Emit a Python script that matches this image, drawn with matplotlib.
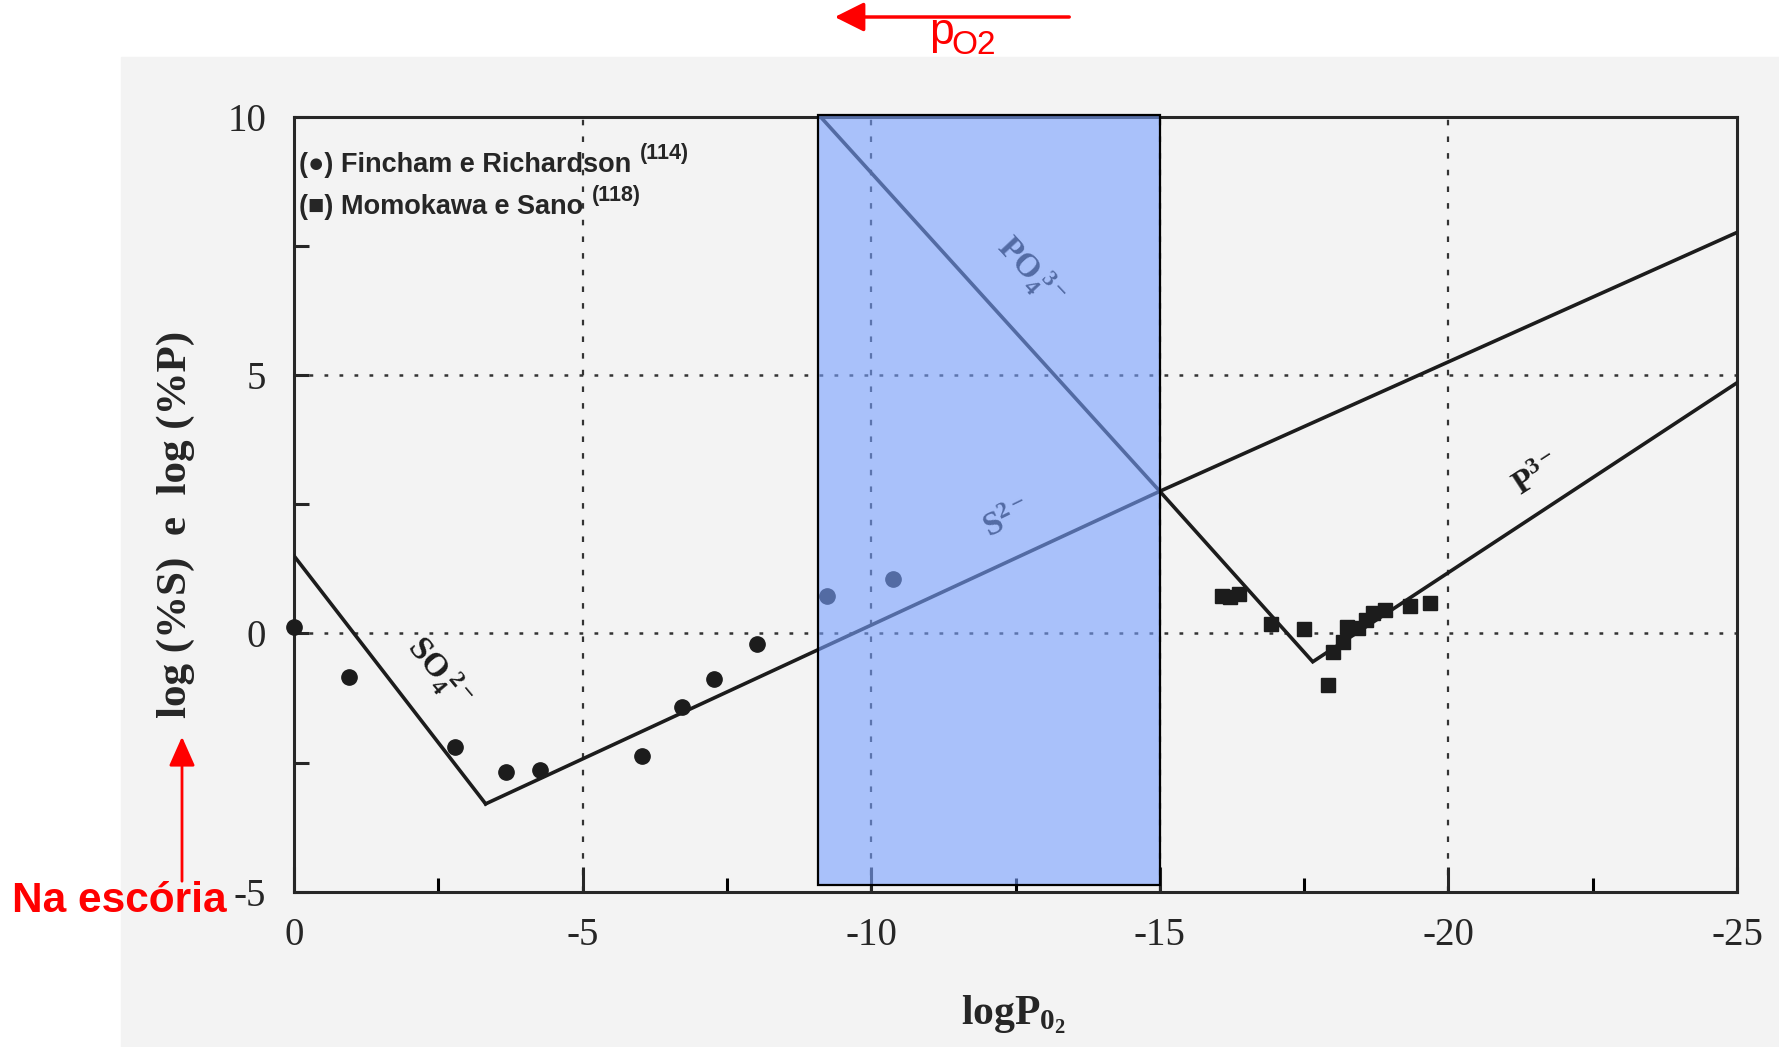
"""Stability diagram of S and P species in slag versus oxygen partial pressure."""

import matplotlib

matplotlib.use("Agg")
import matplotlib.pyplot as plt
from matplotlib.patches import Rectangle, FancyArrowPatch

plt.rcParams["font.family"] = ["Liberation Serif", "DejaVu Sans"]
plt.rcParams["axes.unicode_minus"] = False
plt.rcParams["mathtext.fontset"] = "custom"
plt.rcParams["mathtext.rm"] = "Liberation Serif:bold"
plt.rcParams["mathtext.bf"] = "Liberation Serif:bold"
plt.rcParams["mathtext.it"] = "Liberation Serif:bold:italic"

W, H = 1779, 1047

# model lines (x = log pO2, y = log %S or log %P)
so4_x = [0.0, -3.32]
so4_y = [1.5, -3.3]
s2_x = [-3.32, -15.0, -25.0]
s2_y = [-3.3, 2.75, 7.76]
po4_x = [-9.12, -15.0]
po4_y = [10.0, 2.75]
p3_x = [-15.0, -17.65, -25.0]
p3_y = [2.75, -0.55, 4.85]

# Fincham e Richardson (circles)
fr_x = [0.0, -0.96, -2.79, -3.67, -4.27, -6.03, -6.72, -7.28, -8.03, -9.23, -10.38]
fr_y = [0.12, -0.85, -2.19, -2.69, -2.65, -2.37, -1.43, -0.89, -0.21, 0.73, 1.06]

# Momokawa e Sano (squares)
ms_x = [-16.08, -16.21, -16.38, -16.93, -17.50, -17.92, -18.00, -18.18, -18.24,
        -18.44, -18.58, -18.70, -18.90, -19.33, -19.68]
ms_y = [0.72, 0.71, 0.77, 0.19, 0.08, -1.0, -0.36, -0.16, 0.13,
        0.10, 0.26, 0.39, 0.45, 0.53, 0.59]

# highlighted window of log pO2
band_x = (-9.07, -15.0)
band_y = (-4.87, 10.03)

x_ticks = [0, -5, -10, -15, -20, -25]
x_minor = [-2.5, -7.5, -12.5, -17.5, -22.5]
y_ticks = [-5, 0, 5, 10]
y_minor = [-2.5, 2.5, 7.5]
x_grid = [-5, -10, -15, -20]
y_grid = [0, 5]


def px(x, y):
    return x / W, 1 - y / H


fig = plt.figure(figsize=(W / 100, H / 100), dpi=100)
fig.patch.set_facecolor("white")
# scanned page backdrop
fig.patches.append(Rectangle(px(121, H), (W - 121) / W, (H - 57) / H,
                             transform=fig.transFigure, color="#f3f3f3", zorder=-5))

ax = fig.add_axes([294 / W, 155.3 / H, 1443 / W, 775.0 / H])
ax.set_facecolor("none")
ax.set_xlim(0, -25)
ax.set_ylim(-5, 10)

ink = "#1c1c1c"
for v in x_grid:
    ax.axvline(v, color="#333333", lw=1.6, ls=(0, (2.5, 5)), zorder=1)
for v in y_grid:
    ax.axhline(v, color="#333333", lw=1.8, ls=(0, (1.5, 4.5)), zorder=1)

for xs, ys in [(so4_x, so4_y), (s2_x, s2_y), (po4_x, po4_y), (p3_x, p3_y)]:
    ax.plot(xs, ys, color=ink, lw=2.6, zorder=3, solid_joinstyle="miter")

ax.plot(fr_x, fr_y, "o", color=ink, ms=11, zorder=4, clip_on=False)
ax.plot(ms_x, ms_y, "s", color=ink, ms=10, zorder=4, clip_on=False)

label_kw = dict(ha="center", va="center", fontsize=24, color=ink, zorder=3)
ax.text(-2.5, -0.75, r"$\mathbf{SO_4^{\ 2-}}$", rotation=-50, **label_kw)
ax.text(-12.75, 7.0, r"$\mathbf{PO_4^{\ 3-}}$", rotation=-47, **label_kw)
ax.text(-12.35, 2.2, r"$\mathbf{S^{2-}}$", rotation=26, **label_kw)
ax.text(-21.55, 3.05, r"$\mathbf{P^{3-}}$", rotation=33, **label_kw)

# translucent band over the plot, black outline on top
ax.add_patch(Rectangle((band_x[0], band_y[0]), band_x[1] - band_x[0], band_y[1] - band_y[0],
                       facecolor="#78a0ff", alpha=0.6, edgecolor="none", zorder=5, clip_on=False))
ax.add_patch(Rectangle((band_x[0], band_y[0]), band_x[1] - band_x[0], band_y[1] - band_y[0],
                       facecolor="none", edgecolor="black", lw=1.6, zorder=6, clip_on=False))

for side in ["left", "right", "top", "bottom"]:
    ax.spines[side].set_color("#262626")
    ax.spines[side].set_linewidth(2.2)

ax.set_xticks(x_ticks)
ax.set_xticklabels([str(v) for v in x_ticks])
ax.set_xticks(x_minor, minor=True)
ax.set_yticks(y_ticks)
ax.set_yticklabels([str(v) for v in y_ticks])
ax.set_yticks(y_minor, minor=True)
ax.tick_params(axis="x", which="major", direction="in", length=18, width=2.2,
               pad=18, labelsize=28, colors="#262626", top=False)
ax.tick_params(axis="x", which="minor", direction="in", length=10, width=2.2, top=False)
ax.tick_params(axis="y", which="both", direction="in", length=11, width=2.2,
               pad=20, labelsize=28, colors="#262626", right=False)

fig.text(*px(176, 524), "log (%S)  e  log (%P)", rotation=90, ha="center", va="center",
         fontsize=31, fontweight="bold", color="#262626")
fig.text(*px(961, 1024), r"$\mathbf{logP_{0_2}}$", ha="left", va="baseline",
         fontsize=30, color="#262626")

# legend
sans = ["Liberation Sans", "DejaVu Sans"]
renderer = fig.canvas.get_renderer()
for text, ref, ytop in [("(\u25cf) Fincham e Richardson", "(114)", 172),
                         ("(\u25a0) Momokawa e Sano", "(118)", 214)]:
    t = fig.text(*px(299, ytop), text, ha="left", va="baseline", fontsize=19.5,
                 fontweight="bold", family=sans, color="#262626")
    bb = t.get_window_extent(renderer=renderer)
    fig.text(bb.x1 / W + 9 / W, 1 - (ytop - 13) / H, ref, ha="left", va="baseline",
             fontsize=15.5, fontweight="bold", family=sans, color="#262626")

# red annotations
red = "#ff0000"
fig.patches.append(FancyArrowPatch(
    px(1072, 17), px(832, 17), transform=fig.transFigure, color=red, lw=2.5,
    arrowstyle="-|>,head_length=0.9,head_width=0.45", mutation_scale=20))
fig.text(*px(929, 44), "p", ha="left", va="baseline", fontsize=32, family=sans, color=red)
fig.text(*px(951, 54), "O2", ha="left", va="baseline", fontsize=24, family=sans, color=red)

fig.patches.append(FancyArrowPatch(
    px(182, 884), px(182, 734), transform=fig.transFigure, color=red, lw=2.0,
    arrowstyle="-|>,head_length=0.9,head_width=0.4", mutation_scale=20))
fig.text(*px(12, 912), "Na escória", ha="left", va="baseline", fontsize=30.5,
         fontweight="bold", family=sans, color=red)

fig.savefig("out.png", dpi=100)
plt.close(fig)
